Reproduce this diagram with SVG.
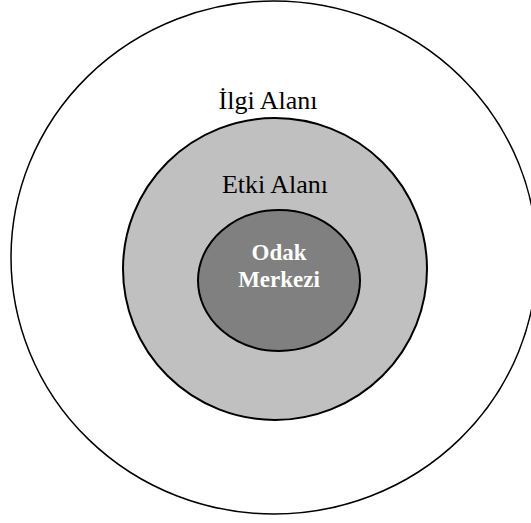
<svg xmlns="http://www.w3.org/2000/svg" width="531" height="523" viewBox="0 0 531 523">
  <style>
    .ring { stroke: #000; }
    .label { font-family: "Liberation Serif", "Times New Roman", serif; text-anchor: middle; }
    .plain { font-size: 26px; fill: #000; }
    .core { font-size: 23px; font-weight: bold; fill: #fff; }
  </style>
  <rect width="531" height="523" fill="#fff"/>
  <g id="ilgi-alani">
    <ellipse class="ring" cx="274" cy="257.5" rx="263" ry="256.5" fill="#fff" stroke-width="1.5"/>
    <text class="label plain" x="268" y="108.5">İlgi Alanı</text>
  </g>
  <g id="etki-alani">
    <ellipse class="ring" cx="275" cy="269" rx="152" ry="151" fill="#c0c0c0" stroke-width="2"/>
    <text class="label plain" x="275" y="193">Etki Alanı</text>
  </g>
  <g id="odak-merkezi">
    <ellipse class="ring" cx="279" cy="280.5" rx="81" ry="70.5" fill="#808080" stroke-width="2"/>
    <text class="label core" x="279" y="260">Odak</text>
    <text class="label core" x="279" y="287">Merkezi</text>
  </g>
  <g id="connectors"/>
</svg>
